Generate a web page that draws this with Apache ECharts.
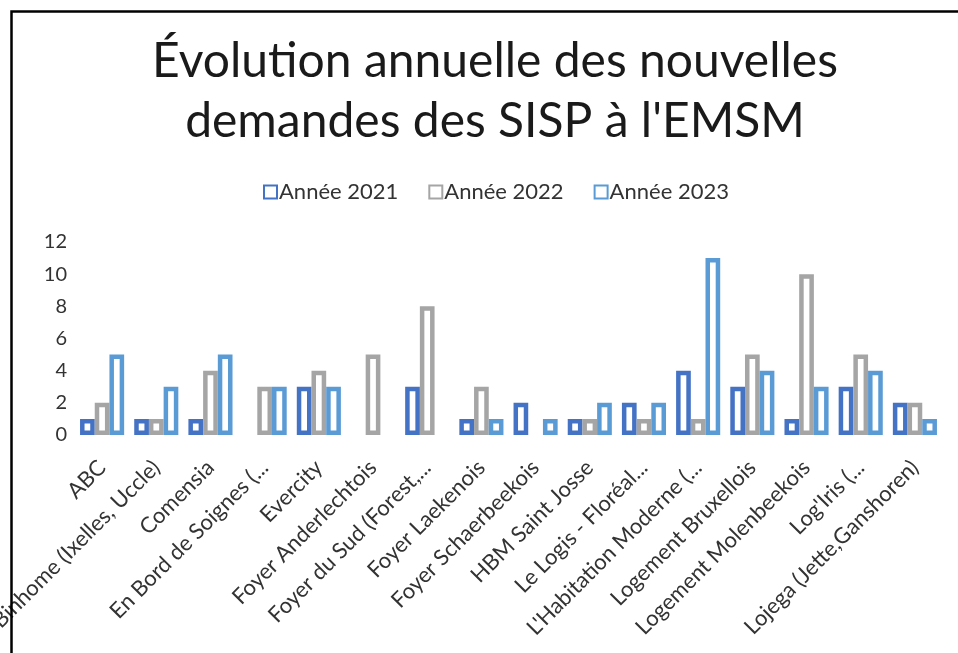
<!DOCTYPE html>
<html>
<head>
<meta charset="utf-8">
<script src="https://cdn.jsdelivr.net/npm/echarts@6/dist/echarts.min.js"></script>
<style>
  html, body { margin: 0; padding: 0; background: #fff; }
  #chart { width: 958px; height: 653px; }
</style>
</head>
<body>
<div id="chart"></div>
<script>
// données (null = pas de barre)
const categories = [
  'ABC', 'Binhome (Ixelles, Uccle)', 'Comensia', 'En Bord de Soignes (...',
  'Evercity', 'Foyer Anderlechtois', 'Foyer du Sud (Forest,...', 'Foyer Laekenois',
  'Foyer Schaerbeekois', 'HBM Saint Josse', 'Le Logis - Floréal...', "L'Habitation Moderne (...",
  'Logement Bruxellois', 'Logement Molenbeekois', "Log'Iris (...", 'Lojega (Jette,Ganshoren)'
];
const annee2021 = [1, 1, 1, null, 3, null, 3, 1, 2, 1, 2, 4, 3, 1, 3, 2];
const annee2022 = [2, 1, 4, 3, 4, 5, 8, 3, null, 1, 1, 1, 5, 10, 5, 2];
const annee2023 = [5, 3, 5, 3, 3, null, null, 1, 1, 2, 2, 11, 4, 3, 4, 1];
const seriesNames = ['Année 2021', 'Année 2022', 'Année 2023'];
const colors = ['#4472C4', '#A5A5A5', '#5B9BD5'];

const font = 'Lato';
const chart = echarts.init(document.getElementById('chart'));

function barSerie(i, data) {
  return {
    name: seriesNames[i],
    type: 'bar',
    data: data,
    barWidth: 14.7,
    barGap: 0,
    itemStyle: { color: '#fff', borderColor: colors[i], borderWidth: 4.5 }
  };
}

chart.setOption({
  animation: false,
  textStyle: { fontFamily: font },
  title: {
    text: 'Évolution annuelle des nouvelles\ndemandes des SISP à l\'EMSM',
    left: 490,
    textAlign: 'center',
    top: 27,
    textStyle: { fontFamily: font, fontSize: 48, fontWeight: 'normal', lineHeight: 60, color: '#1a1a1a' }
  },
  legend: {
    top: 176,
    left: 258,
    icon: 'rect',
    itemWidth: 13,
    itemHeight: 13,
    itemGap: 30,
    textStyle: { fontFamily: font, fontSize: 22, color: '#333', padding: [0, 0, 0, -3] },
    data: seriesNames
  },
  grid: { left: 75, right: 16, top: 242, bottom: 218, outerBoundsMode: 'none', containLabel: false },
  xAxis: {
    type: 'category',
    data: categories,
    axisLine: { show: false },
    axisTick: { show: false },
    axisLabel: { interval: 0, rotate: 45, margin: 29, fontFamily: font, fontSize: 22, color: '#333' }
  },
  yAxis: {
    type: 'value',
    min: 0,
    max: 12,
    interval: 2,
    splitLine: { show: false },
    axisLine: { show: false },
    axisLabel: { margin: 8, fontFamily: font, fontSize: 20, color: '#333' }
  },
  series: [barSerie(0, annee2021), barSerie(1, annee2022), barSerie(2, annee2023)],
  graphic: [{
    type: 'polyline',
    z: 100,
    shape: { points: [[11.5, 653], [11.5, 11.5], [958, 11.5]] },
    style: { stroke: '#000', lineWidth: 2.5, fill: null }
  }]
});
</script>
</body>
</html>
